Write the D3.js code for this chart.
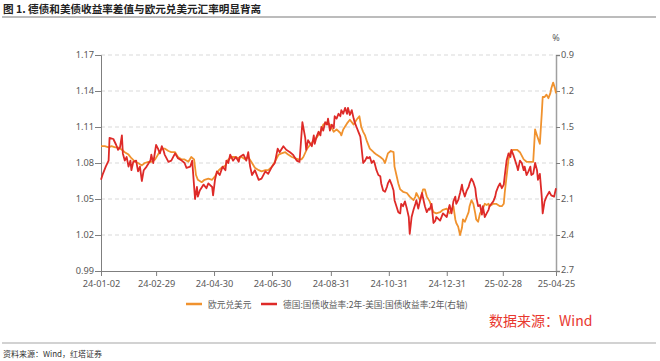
<html>
  <head>
    <meta charset="utf-8">
    <script src="https://cdn.jsdelivr.net/npm/d3@7"></script>
    <style>
      body {margin:0; background:#fff;}
      text {font-family: "Noto Sans", "Noto Sans CJK SC", sans-serif;}
      .cjk {font-family: "Noto Sans CJK SC", sans-serif;}
    </style>
  </head>
  <body>
    <div id="chart1"></div>
    <script>
      // 欧元兑美元 (left axis)
      var eurDates = ["2024-01-02","2024-01-06","2024-01-10","2024-01-13","2024-01-17","2024-01-20","2024-01-24","2024-01-27","2024-01-31","2024-02-03","2024-02-07","2024-02-10","2024-02-14","2024-02-17","2024-02-21","2024-02-24","2024-02-28","2024-03-02","2024-03-06","2024-03-09","2024-03-13","2024-03-16","2024-03-20","2024-03-23","2024-03-27","2024-03-30","2024-04-03","2024-04-06","2024-04-09","2024-04-11","2024-04-13","2024-04-17","2024-04-20","2024-04-24","2024-04-28","2024-05-01","2024-05-05","2024-05-08","2024-05-12","2024-05-15","2024-05-19","2024-05-22","2024-05-26","2024-05-29","2024-06-02","2024-06-05","2024-06-09","2024-06-12","2024-06-16","2024-06-19","2024-06-23","2024-06-26","2024-06-30","2024-07-03","2024-07-07","2024-07-10","2024-07-14","2024-07-17","2024-07-21","2024-07-24","2024-07-28","2024-07-31","2024-08-02","2024-08-06","2024-08-09","2024-08-13","2024-08-16","2024-08-20","2024-08-23","2024-08-27","2024-08-30","2024-09-03","2024-09-06","2024-09-10","2024-09-11","2024-09-13","2024-09-17","2024-09-20","2024-09-24","2024-09-27","2024-09-30","2024-10-02","2024-10-04","2024-10-06","2024-10-08","2024-10-11","2024-10-15","2024-10-18","2024-10-22","2024-10-25","2024-10-27","2024-10-30","2024-11-02","2024-11-05","2024-11-06","2024-11-08","2024-11-10","2024-11-12","2024-11-15","2024-11-19","2024-11-22","2024-11-26","2024-11-28","2024-11-29","2024-12-01","2024-12-03","2024-12-06","2024-12-08","2024-12-10","2024-12-13","2024-12-17","2024-12-20","2024-12-24","2024-12-27","2024-12-31","2025-01-03","2025-01-07","2025-01-09","2025-01-10","2025-01-12","2025-01-14","2025-01-16","2025-01-17","2025-01-19","2025-01-21","2025-01-23","2025-01-24","2025-01-26","2025-01-28","2025-01-30","2025-01-31","2025-02-02","2025-02-04","2025-02-06","2025-02-07","2025-02-09","2025-02-11","2025-02-13","2025-02-14","2025-02-18","2025-02-21","2025-02-25","2025-02-27","2025-03-01","2025-03-02","2025-03-04","2025-03-06","2025-03-08","2025-03-11","2025-03-15","2025-03-18","2025-03-22","2025-03-25","2025-03-29","2025-04-01","2025-04-03","2025-04-05","2025-04-08","2025-04-10","2025-04-11","2025-04-13","2025-04-15","2025-04-17","2025-04-19","2025-04-20","2025-04-22","2025-04-24","2025-04-25"];
      var eurValues = [1.094,1.094,1.093,1.094,1.093,1.093,1.091,1.089,1.087,1.084,1.081,1.080,1.078,1.080,1.081,1.081,1.083,1.087,1.092,1.092,1.090,1.089,1.089,1.085,1.083,1.083,1.081,1.085,1.083,1.070,1.066,1.064,1.066,1.067,1.066,1.069,1.074,1.076,1.078,1.083,1.085,1.085,1.084,1.085,1.083,1.085,1.080,1.076,1.074,1.073,1.074,1.074,1.077,1.081,1.087,1.088,1.089,1.087,1.085,1.084,1.083,1.083,1.085,1.092,1.095,1.099,1.101,1.106,1.112,1.114,1.112,1.106,1.108,1.105,1.103,1.108,1.113,1.116,1.112,1.116,1.119,1.110,1.106,1.103,1.098,1.092,1.089,1.087,1.085,1.083,1.080,1.088,1.090,1.089,1.077,1.070,1.063,1.058,1.056,1.055,1.052,1.049,1.052,1.055,1.052,1.049,1.058,1.058,1.052,1.048,1.039,1.038,1.039,1.041,1.042,1.038,1.044,1.033,1.030,1.027,1.020,1.026,1.033,1.031,1.035,1.039,1.044,1.049,1.046,1.038,1.033,1.031,1.038,1.041,1.042,1.046,1.045,1.046,1.044,1.046,1.046,1.044,1.044,1.046,1.055,1.069,1.083,1.089,1.091,1.091,1.089,1.083,1.081,1.081,1.081,1.108,1.103,1.096,1.121,1.135,1.135,1.137,1.134,1.138,1.142,1.147,1.142,1.138];

      // 德国2年-美国2年国债收益率 (right axis, as labelled)
      var spreadDates = ["2024-01-02","2024-01-04","2024-01-07","2024-01-10","2024-01-11","2024-01-15","2024-01-18","2024-01-20","2024-01-22","2024-01-24","2024-01-25","2024-01-27","2024-01-29","2024-01-31","2024-02-02","2024-02-03","2024-02-05","2024-02-08","2024-02-10","2024-02-12","2024-02-14","2024-02-16","2024-02-19","2024-02-23","2024-02-24","2024-02-26","2024-02-29","2024-03-02","2024-03-04","2024-03-06","2024-03-08","2024-03-09","2024-03-13","2024-03-16","2024-03-20","2024-03-23","2024-03-27","2024-03-30","2024-04-01","2024-04-05","2024-04-07","2024-04-10","2024-04-12","2024-04-13","2024-04-15","2024-04-19","2024-04-22","2024-04-24","2024-04-28","2024-04-29","2024-05-01","2024-05-03","2024-05-06","2024-05-09","2024-05-12","2024-05-13","2024-05-15","2024-05-17","2024-05-20","2024-05-23","2024-05-26","2024-05-27","2024-05-31","2024-06-03","2024-06-05","2024-06-07","2024-06-09","2024-06-12","2024-06-16","2024-06-19","2024-06-23","2024-06-26","2024-06-30","2024-07-03","2024-07-06","2024-07-08","2024-07-12","2024-07-15","2024-07-19","2024-07-22","2024-07-26","2024-07-29","2024-08-01","2024-08-04","2024-08-05","2024-08-07","2024-08-11","2024-08-13","2024-08-14","2024-08-16","2024-08-18","2024-08-20","2024-08-21","2024-08-23","2024-08-25","2024-08-27","2024-08-28","2024-08-30","2024-09-01","2024-09-03","2024-09-04","2024-09-06","2024-09-08","2024-09-10","2024-09-11","2024-09-13","2024-09-15","2024-09-17","2024-09-18","2024-09-20","2024-09-22","2024-09-24","2024-09-25","2024-09-27","2024-09-29","2024-10-01","2024-10-02","2024-10-04","2024-10-06","2024-10-08","2024-10-09","2024-10-11","2024-10-13","2024-10-15","2024-10-16","2024-10-18","2024-10-20","2024-10-22","2024-10-23","2024-10-25","2024-10-27","2024-10-29","2024-10-30","2024-11-01","2024-11-03","2024-11-05","2024-11-06","2024-11-08","2024-11-10","2024-11-12","2024-11-13","2024-11-15","2024-11-17","2024-11-19","2024-11-21","2024-11-22","2024-11-24","2024-11-26","2024-11-28","2024-11-29","2024-12-01","2024-12-03","2024-12-05","2024-12-06","2024-12-08","2024-12-10","2024-12-12","2024-12-13","2024-12-15","2024-12-17","2024-12-19","2024-12-20","2024-12-24","2024-12-27","2024-12-31","2025-01-02","2025-01-03","2025-01-05","2025-01-07","2025-01-09","2025-01-10","2025-01-12","2025-01-14","2025-01-16","2025-01-17","2025-01-19","2025-01-21","2025-01-23","2025-01-24","2025-01-26","2025-01-28","2025-01-30","2025-01-31","2025-02-02","2025-02-04","2025-02-06","2025-02-07","2025-02-09","2025-02-11","2025-02-13","2025-02-14","2025-02-16","2025-02-18","2025-02-20","2025-02-21","2025-02-23","2025-02-25","2025-02-27","2025-03-01","2025-03-02","2025-03-04","2025-03-06","2025-03-08","2025-03-09","2025-03-11","2025-03-13","2025-03-15","2025-03-16","2025-03-18","2025-03-20","2025-03-22","2025-03-23","2025-03-25","2025-03-27","2025-03-29","2025-03-30","2025-04-01","2025-04-03","2025-04-05","2025-04-06","2025-04-08","2025-04-10","2025-04-11","2025-04-13","2025-04-15","2025-04-18","2025-04-20","2025-04-23","2025-04-25"];
      var spreadValues = [1.94,1.89,1.83,1.78,1.59,1.60,1.65,1.69,1.67,1.57,1.72,1.78,1.75,1.83,1.78,1.86,1.79,1.78,1.87,1.83,1.95,1.86,1.83,1.78,1.73,1.80,1.65,1.68,1.72,1.66,1.70,1.73,1.79,1.78,1.72,1.76,1.78,1.80,1.84,1.83,1.78,2.10,2.00,2.08,2.03,1.98,2.01,1.97,2.00,2.07,1.94,1.87,1.90,1.83,1.86,1.78,1.80,1.73,1.78,1.75,1.79,1.75,1.73,1.78,1.71,1.83,1.90,1.86,1.94,1.93,1.87,1.89,1.83,1.80,1.68,1.71,1.66,1.69,1.71,1.73,1.78,1.79,1.46,1.59,1.69,1.61,1.66,1.57,1.64,1.58,1.54,1.57,1.50,1.53,1.46,1.48,1.43,1.53,1.48,1.51,1.41,1.43,1.39,1.41,1.36,1.39,1.34,1.39,1.34,1.40,1.36,1.43,1.46,1.50,1.54,1.58,1.65,1.80,1.78,1.75,1.76,1.75,1.80,1.78,1.80,1.86,1.90,1.91,1.97,2.03,2.04,2.00,1.97,1.94,1.98,2.03,2.11,2.16,2.21,2.22,2.14,2.16,2.12,2.18,2.25,2.39,2.25,2.19,2.14,2.11,2.18,2.11,2.05,2.09,2.16,2.21,2.18,2.19,2.14,2.30,2.28,2.25,2.28,2.22,2.25,2.18,2.15,2.22,2.12,2.08,2.14,2.11,2.05,1.98,2.03,2.08,2.03,2.00,1.97,1.93,1.96,2.01,2.08,2.16,2.15,2.23,2.16,2.25,2.22,2.19,2.16,2.14,2.12,2.08,2.04,2.00,1.97,2.01,1.98,1.91,1.78,1.72,1.75,1.69,1.73,1.78,1.83,1.86,1.78,1.80,1.86,1.83,1.90,1.87,1.83,1.90,1.89,1.80,1.86,1.94,1.89,2.08,2.22,2.12,2.08,2.04,2.07,2.08,2.01];

      var xTickDates = ["2024-01-02","2024-02-29","2024-04-30","2024-06-30","2024-08-31","2024-10-31","2024-12-31","2025-02-28","2025-04-25"];
      var leftTicks = [0.99, 1.02, 1.05, 1.08, 1.11, 1.14, 1.17];
      var rightTicks = [0.9, 1.2, 1.5, 1.8, 2.1, 2.4, 2.7];

      var orange = "#F0922E", red = "#DE2A28";
      var width = 660, height = 361;
      var plot = {left: 101, right: 556, top: 55, bottom: 271};
      var parse = d3.utcParse("%Y-%m-%d");

      var svg = d3.select("#chart1").append("svg")
        .attr("width", width)
        .attr("height", height)
        .attr("style", "background-color: white;");

      // title + rules
      svg.append("text")
        .attr("class", "cjk")
        .attr("x", 3).attr("y", 13)
        .style("font-size", "10.6px").style("font-weight", "bold").style("fill", "#222")
        .text("图 1. 德债和美债收益率差值与欧元兑美元汇率明显背离");
      svg.append("line").attr("x1", 2).attr("x2", 656).attr("y1", 17).attr("y2", 17)
        .attr("stroke", "#a6a6a6").attr("stroke-width", 1.5);
      svg.append("line").attr("x1", 2).attr("x2", 656).attr("y1", 343).attr("y2", 343)
        .attr("stroke", "#a6a6a6").attr("stroke-width", 1.2);

      var x = d3.scaleUtc()
        .domain([parse("2024-01-02"), parse("2025-04-25")])
        .range([plot.left, plot.right]);
      var yL = d3.scaleLinear().domain([0.99, 1.17]).range([plot.bottom, plot.top]);
      var yR = d3.scaleLinear().domain([0.9, 2.7]).range([plot.top, plot.bottom]);

      // dashed grid
      svg.append("g").selectAll("line")
        .data(leftTicks.slice(1))
        .enter().append("line")
        .attr("x1", plot.left).attr("x2", plot.right)
        .attr("y1", function(d){ return yL(d); })
        .attr("y2", function(d){ return yL(d); })
        .attr("stroke", "#d9d9d9").attr("stroke-dasharray", "4,3");

      var tickFont = function(g){
        g.selectAll("text").style("font-size", "9.2px").style("fill", "#595959");
        g.selectAll("line").attr("stroke", "#7f7f7f");
      };

      var gL = svg.append("g")
        .attr("transform", "translate(" + plot.left + ",0)")
        .call(d3.axisLeft(yL).tickValues(leftTicks).tickFormat(d3.format(".2f")).tickSize(6).tickPadding(1));
      gL.select(".domain").attr("stroke", "#7f7f7f");
      gL.call(tickFont);

      var gR = svg.append("g")
        .attr("transform", "translate(" + plot.right + ",0)")
        .call(d3.axisRight(yR).tickValues(rightTicks).tickFormat(d3.format(".1f")).tickSize(4).tickPadding(1));
      gR.select(".domain").attr("stroke", "#a0a0a0").attr("stroke-width", 1.5);
      gR.call(tickFont);
      // keep the bottom label clear of the date under it
      gR.selectAll("text").filter(function(d){ return d === 2.7; }).attr("dy", "0.2em");

      var gX = svg.append("g")
        .attr("transform", "translate(0," + plot.bottom + ")")
        .call(d3.axisBottom(x).tickValues(xTickDates.map(parse)).tickFormat(d3.utcFormat("%y-%m-%d")).tickSize(5).tickPadding(4));
      gX.select(".domain").attr("stroke", "#7f7f7f");
      gX.call(tickFont);

      svg.append("text")
        .attr("x", plot.right).attr("y", 41)
        .attr("text-anchor", "middle")
        .style("font-size", "9px").style("fill", "#595959")
        .text("%");

      // lines
      var eurData = eurDates.map(function(d, i){ return {date: parse(d), value: eurValues[i]}; });
      var spreadData = spreadDates.map(function(d, i){ return {date: parse(d), value: spreadValues[i]}; });

      svg.append("path")
        .datum(eurData)
        .attr("d", d3.line()
          .x(function(d){ return x(d.date); })
          .y(function(d){ return yL(d.value); }))
        .attr("stroke", orange).style("stroke-width", 1.8).style("fill", "none")
        .style("stroke-linejoin", "round");

      svg.append("path")
        .datum(spreadData)
        .attr("d", d3.line()
          .x(function(d){ return x(d.date); })
          .y(function(d){ return yR(d.value); }))
        .attr("stroke", red).style("stroke-width", 1.8).style("fill", "none")
        .style("stroke-linejoin", "round");

      // legend
      var legend = [
        {name: "欧元兑美元", color: orange, x: 186},
        {name: "德国:国债收益率:2年-美国:国债收益率:2年(右轴)", color: red, x: 261}
      ];
      for (var i = 0; i < legend.length; i++) {
        svg.append("line")
          .attr("x1", legend[i].x).attr("x2", legend[i].x + 16)
          .attr("y1", 304).attr("y2", 304)
          .attr("stroke", legend[i].color).attr("stroke-width", 2.5);
        svg.append("text")
          .attr("class", "cjk")
          .attr("x", legend[i].x + 22).attr("y", 307.5)
          .style("font-size", "8.7px").style("fill", "#595959")
          .text(legend[i].name);
      }

      svg.append("text")
        .attr("class", "cjk")
        .attr("x", 489).attr("y", 326)
        .style("font-size", "14px").style("fill", "#E8382E")
        .text("数据来源：Wind");

      svg.append("text")
        .attr("class", "cjk")
        .attr("x", 3).attr("y", 357)
        .style("font-size", "8px").style("fill", "#333")
        .text("资料来源：Wind，红塔证券");
    </script>
  </body>
</html>
